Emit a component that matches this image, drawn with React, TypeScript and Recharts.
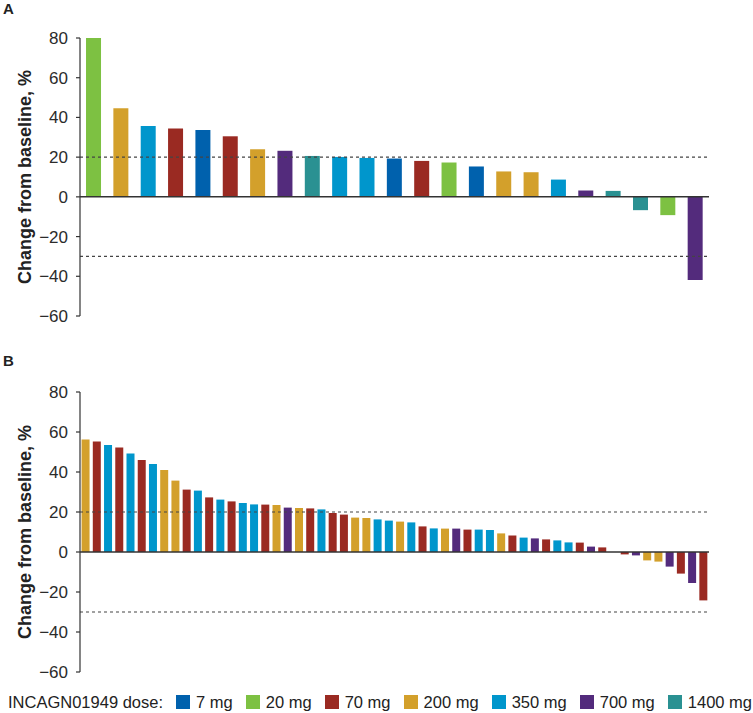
import React from "react";
import { Bar, BarChart, Cell, ReferenceLine, XAxis, YAxis } from "recharts";

// dose groups in legend order
const doseLabels = ["7 mg", "20 mg", "70 mg", "200 mg", "350 mg", "700 mg", "1400 mg"];

const doseColors: Record<string, string> = {
  "7 mg": "#0061AD",
  "20 mg": "#7DC142",
  "70 mg": "#9A2A22",
  "200 mg": "#D3A02B",
  "350 mg": "#0096CC",
  "700 mg": "#532B7C",
  "1400 mg": "#2A9192",
};

// panel A
const panelADoses = [
  "20 mg", "200 mg", "350 mg", "70 mg", "7 mg", "70 mg", "200 mg", "700 mg",
  "1400 mg", "350 mg", "350 mg", "7 mg", "70 mg", "20 mg", "7 mg", "200 mg",
  "200 mg", "350 mg", "700 mg", "1400 mg", "1400 mg", "20 mg", "700 mg",
];
const panelAValues = [
  80, 44.6, 35.7, 34.4, 33.7, 30.5, 24.0, 23.2, 20.6, 20.1, 19.6, 19.3,
  18.1, 17.3, 15.3, 12.8, 12.4, 8.7, 3.2, 3.0, -6.7, -9.2, -41.9,
];

// panel B
const panelBDoses = [
  "200 mg", "70 mg", "350 mg", "70 mg", "350 mg", "70 mg", "350 mg", "200 mg",
  "200 mg", "70 mg", "350 mg", "70 mg", "350 mg", "70 mg", "350 mg", "350 mg",
  "70 mg", "200 mg", "700 mg", "200 mg", "70 mg", "350 mg", "70 mg", "70 mg",
  "200 mg", "200 mg", "350 mg", "350 mg", "200 mg", "350 mg", "70 mg", "350 mg",
  "200 mg", "700 mg", "70 mg", "350 mg", "350 mg", "200 mg", "70 mg", "350 mg",
  "700 mg", "70 mg", "350 mg", "350 mg", "70 mg", "700 mg", "70 mg", "70 mg",
  "70 mg", "700 mg", "200 mg", "200 mg", "700 mg", "70 mg", "700 mg", "70 mg",
];
const panelBValues = [
  56.2, 55.2, 53.5, 52.3, 49.2, 46.0, 44.0, 41.0, 35.7, 31.2, 30.7, 27.3,
  26.2, 25.3, 24.5, 23.8, 23.7, 23.5, 22.2, 22.0, 21.8, 21.3, 19.5, 18.7,
  17.2, 17.0, 16.3, 15.7, 15.2, 14.8, 12.8, 11.8, 11.7, 11.7, 11.2, 11.2,
  11.0, 9.3, 8.2, 7.2, 6.8, 6.3, 5.8, 4.8, 4.7, 2.7, 2.3, 0,
  -1.2, -1.7, -4.2, -4.8, -7.3, -10.8, -15.5, -24.2,
];

const yTicks = [-60, -40, -20, 0, 20, 40, 60, 80];
const thresholds = [20, -30];

const fontFamily = '"Liberation Sans", Arial, Helvetica, sans-serif';
const axisColor = "#333333";

const buildRows = (doses: string[], values: number[]) =>
  values.map((value, index) => ({ id: index, value, dose: doses[index] }));

const formatTick = (value: number) => String(value).replace("-", "\u2212");

const YAxisLabel = ({ viewBox }: any) => {
  const cx = 25;
  const cy = viewBox.y + viewBox.height / 2;
  return (
    <text
      x={cx}
      y={cy}
      transform={`rotate(-90 ${cx} ${cy})`}
      textAnchor="middle"
      dominantBaseline="central"
      fontWeight="bold"
      fontSize={18}
      fill="#222"
      fontFamily={fontFamily}
    >
      Change from baseline, %
    </text>
  );
};

type WaterfallProps = {
  doses: string[];
  values: number[];
  height: number;
  marginTop: number;
  marginBottom: number;
  gap: string;
};

const Waterfall = ({ doses, values, height, marginTop, marginBottom, gap }: WaterfallProps) => {
  const data = buildRows(doses, values);
  return (
    <BarChart
      width={753}
      height={height}
      data={data}
      margin={{ top: marginTop, right: 44, bottom: marginBottom, left: 0 }}
      barCategoryGap={gap}
      style={{ fontFamily }}
    >
      <XAxis dataKey="id" hide padding={{ left: 0, right: 0 }} />
      <YAxis
        width={80}
        domain={[-60, 80]}
        ticks={yTicks}
        interval={0}
        allowDataOverflow
        axisLine={{ stroke: axisColor, strokeWidth: 1.2 }}
        tickLine={{ stroke: axisColor, strokeWidth: 1.2 }}
        tickSize={4}
        tickMargin={8}
        tickFormatter={(v) => formatTick(Number(v))}
        tick={{ fill: "#2b2b2b", fontSize: 17 }}
        label={{ content: <YAxisLabel /> }}
      />
      {thresholds.map((t) => (
        <ReferenceLine
          key={t}
          y={t}
          stroke="#444"
          strokeWidth={1.2}
          strokeDasharray="3 3"
        />
      ))}
      <Bar dataKey="value" isAnimationActive={false}>
        {data.map((row) => (
          <Cell key={row.id} fill={doseColors[row.dose]} />
        ))}
      </Bar>
      <ReferenceLine y={0} stroke={axisColor} strokeWidth={1.5} />
    </BarChart>
  );
};

const PanelLetter = ({ letter, top }: { letter: string; top: number }) => (
  <div
    style={{
      position: "absolute",
      left: 3,
      top,
      fontWeight: "bold",
      fontSize: 15,
      lineHeight: "15px",
      color: "#222",
      fontFamily,
      zIndex: 2,
    }}
  >
    {letter}
  </div>
);

const App = () => (
  <div
    style={{
      position: "absolute",
      left: 0,
      top: 0,
      width: 753,
      height: 713,
      background: "#fff",
      fontFamily,
    }}
  >
    <div style={{ position: "absolute", left: 0, top: 0 }}>
      <Waterfall doses={panelADoses} values={panelAValues} height={340} marginTop={38} marginBottom={24} gap="22%" />
    </div>
    <div style={{ position: "absolute", left: 0, top: 340 }}>
      <Waterfall doses={panelBDoses} values={panelBValues} height={350} marginTop={52} marginBottom={18} gap="14%" />
    </div>
    <PanelLetter letter="A" top={1} />
    <PanelLetter letter="B" top={353} />
    <div
      style={{
        position: "absolute",
        left: 8,
        width: 744,
        top: 693,
        display: "flex",
        justifyContent: "space-between",
        alignItems: "center",
        fontSize: 16.5,
        lineHeight: "18px",
        color: "#222",
        whiteSpace: "nowrap",
      }}
    >
      <span>INCAGN01949 dose:</span>
      {doseLabels.map((dose) => (
        <span key={dose} style={{ display: "flex", alignItems: "center" }}>
          <span style={{ width: 14, height: 14, background: doseColors[dose], marginRight: 6 }} />
          {dose}
        </span>
      ))}
    </div>
  </div>
);

export default App;
